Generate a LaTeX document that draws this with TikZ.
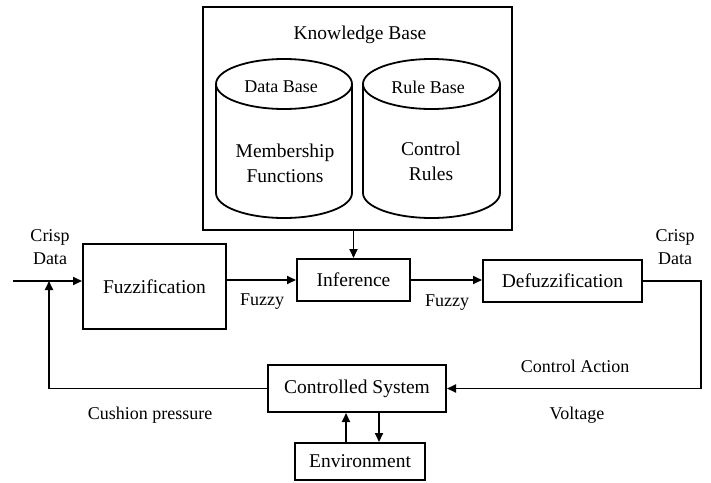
\documentclass[tikz,border=0pt]{standalone}
\usepackage{fontspec}
\setmainfont{Liberation Serif}
\usetikzlibrary{arrows.meta,calc}
\begin{document}
\begin{tikzpicture}[x=1pt,y=1pt,
  blk/.style={draw,line width=2pt,inner sep=0pt,font=\fontsize{19.5}{25}\selectfont,align=center},
  lbl/.style={inner sep=0pt,font=\fontsize{18}{23}\selectfont,align=center},
  big/.style={inner sep=0pt,font=\fontsize{19.5}{25}\selectfont,align=center},
  conn/.style={line width=1.8pt,-{Triangle[length=9pt,width=8pt]}},
  wire/.style={line width=1.8pt},
  cyl/.style={line width=1.8pt}]
\fill[white] (0,0) rectangle (711,-482);
\useasboundingbox (0,0) rectangle (711,-482);

% Knowledge base
\node[blk,minimum width=309,minimum height=223] (kb) at (357.5,-118.5) {};
\node[big] (kbt) at (360,-35) {Knowledge Base};
% cylinders
\draw[cyl] (216,-84) -- (216,-193) arc[start angle=180,end angle=360,x radius=68,y radius=25] -- (352,-84);
\draw[cyl] (284,-84) ellipse[x radius=68,y radius=25];
\draw[cyl] (363,-84) -- (363,-193) arc[start angle=180,end angle=360,x radius=68.5,y radius=25] -- (500,-84);
\draw[cyl] (431.5,-84) ellipse[x radius=68.5,y radius=25];
\node[lbl] (db) at (281,-87) {Data Base};
\node[lbl] (rb) at (428,-87) {Rule Base};
\node[big] (mf) at (285,-163) {Membership\\Functions};
\node[big] (cr) at (431,-161) {Control\\Rules};

% main blocks
\node[blk,minimum width=143,minimum height=85] (fuzz) at (154.5,-286.5) {Fuzzification};
\node[blk,minimum width=113,minimum height=42] (inf) at (353.5,-280) {Inference};
\node[blk,minimum width=159,minimum height=42] (defuzz) at (562.5,-281) {Defuzzification};
\node[blk,minimum width=178,minimum height=47] (cs) at (357,-388.5) {Controlled System};
\node[blk,minimum width=130,minimum height=37] (env) at (360,-461.5) {Environment};

% coordinates
\coordinate (in) at (13,-281);
\coordinate (j) at (49,-281);
\coordinate (rc) at (701,-388.5);
\coordinate (ux) at (346,0);
\coordinate (dx) at (379,0);

% connectors
\draw[conn] (in) -- (in -| fuzz.west);
\draw[conn] (inf.west -| fuzz.east) -- (inf.west);
\draw[conn] (inf.north |- kb.south) -- (inf.north);
\draw[conn] (inf.east) -- (inf.east -| defuzz.west);
\draw[wire] (defuzz.east) -| (rc);
\draw[conn] (rc) -- (cs.east);
\draw[conn] (cs.west) -| (j);
\draw[conn] (ux |- env.north) -- (ux |- cs.south);
\draw[conn] (dx |- cs.south) -- (dx |- env.north);

% labels
\node[lbl] (cd1) at (50,-247) {Crisp\\Data};
\node[lbl] (cd2) at (675,-247) {Crisp\\Data};
\node[lbl] (fz1) at (262,-302) {Fuzzy};
\node[lbl] (fz2) at (447,-303) {Fuzzy};
\node[lbl] (ca) at (575,-366) {Control Action};
\node[lbl] (vo) at (577,-415) {Voltage};
\node[lbl] (cp) at (150,-415) {Cushion pressure};
\end{tikzpicture}
\end{document}
